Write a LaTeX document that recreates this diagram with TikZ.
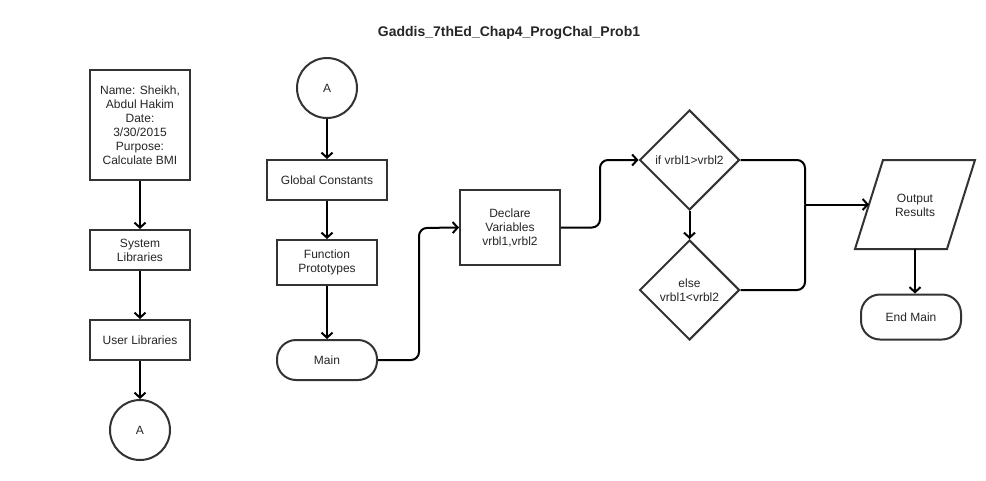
\documentclass[tikz,border=0pt]{standalone}
\usepackage{fontspec}
\setmainfont{Liberation Sans}
\usetikzlibrary{arrows.meta,shapes.geometric}
\begin{document}
\begin{tikzpicture}[x=1pt,y=-1pt,
  every node/.style={font=\fontsize{12}{14}\selectfont, align=center, inner sep=0pt, text=black!85},
  box/.style={draw=black!80, line width=2pt, fill=white},
  term/.style={box, rounded corners=19pt},
  dec/.style={box, diamond, aspect=1, minimum width=100pt, minimum height=100pt},
  flow/.style={line width=2pt, draw=black, rounded corners=8pt, -{Straight Barb[length=5pt,width=11pt,line width=2pt]}},
  line/.style={line width=2pt, draw=black, rounded corners=8pt}
]
\useasboundingbox (0,0) rectangle (986,480);
\fill[white] (0,0) rectangle (986,480);

\node[font=\bfseries\fontsize{14}{16}\selectfont] (title) at (509,33) {Gaddis\_7thEd\_Chap4\_ProgChal\_Prob1};

% left column
\node[box, minimum width=100pt, minimum height=110pt] (info) at (140,125)
  {Name: Sheikh,\\Abdul Hakim\\Date:\\3/30/2015\\Purpose:\\Calculate BMI};
\node[box, minimum width=100pt, minimum height=40pt] (sys) at (140,250) {System\\Libraries};
\node[box, minimum width=100pt, minimum height=40pt] (usr) at (140,340) {User Libraries};
\node[box, circle, minimum size=60pt] (a1) at (140,430) {A};

\draw[flow] (info) -- (sys);
\draw[flow] (sys) -- (usr);
\draw[flow] (usr) -- (a1);

% middle column
\node[box, circle, minimum size=60pt] (a2) at (327,88) {A};
\node[box, minimum width=120pt, minimum height=40pt] (gc) at (327,180) {Global Constants};
\node[box, minimum width=100pt, minimum height=45pt] (fp) at (327,262.5) {Function\\Prototypes};
\node[term, minimum width=100pt, minimum height=40pt] (main) at (327,360) {Main};

\draw[flow] (a2) -- (gc);
\draw[flow] (gc) -- (fp);
\draw[flow] (fp) -- (main);

\node[box, minimum width=100pt, minimum height=75pt] (decl) at (510,227.5) {Declare\\Variables\\vrbl1,vrbl2};
\draw[flow] (main.east) -- (419,360) -- (419,228) -- (decl.west);

\node[dec] (d1) at (689.5,160) {if vrbl1>vrbl2};
\node[dec] (d2) at (689.5,290) {else\\vrbl1<vrbl2};
\draw[flow] (decl.east) -- (600,227.5) -- (600,160) -- (d1.west);
\draw[flow] (d1.south) -- (d2.north);

% output
\coordinate (outL) at (869,204.5);
\coordinate (outB) at (915,249);
\draw[box, line join=miter] (855,249) -- (883,160) -- (975,160) -- (947,249) -- cycle;
\node (out) at (915,205) {Output\\Results};
\node[term, minimum width=100pt, minimum height=45pt] (endm) at (911,317) {End Main};

\coordinate (join) at (805,204.5);
\draw[line] (d1.east) -- (805,160) -- (join);
\draw[line] (d2.east) -- (805,290) -- (join);
\draw[line width=2pt, -{Straight Barb[length=5pt,width=11pt,line width=2pt]}] (join) -- (outL);
\draw[flow] (outB) -- (outB |- endm.north);
\end{tikzpicture}
\end{document}
